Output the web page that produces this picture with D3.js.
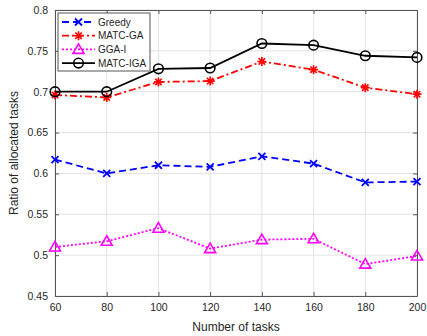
<!DOCTYPE html>
<html>
<head>
<meta charset="utf-8">
<script src="https://cdn.jsdelivr.net/npm/d3@7"></script>
<style>
  body { margin: 0; background: #fff; }
  text { font-family: "Liberation Sans", Arial, sans-serif; fill: #262626; }
</style>
</head>
<body>
<div id="chart"></div>
<script>
// ===== Data =====
var tasks = [60, 80, 100, 120, 140, 160, 180, 200];
var greedy = [0.617, 0.600, 0.610, 0.608, 0.621, 0.612, 0.589, 0.590];
var matcGA = [0.696, 0.693, 0.712, 0.713, 0.737, 0.727, 0.705, 0.697];
var ggaI = [0.510, 0.517, 0.533, 0.508, 0.519, 0.520, 0.489, 0.499];
var matcIGA = [0.700, 0.700, 0.728, 0.729, 0.759, 0.757, 0.744, 0.742];
var yTicks = [0.45, 0.5, 0.55, 0.6, 0.65, 0.7, 0.75, 0.8];
var yTickLabels = ["0.45", "0.5", "0.55", "0.6", "0.65", "0.7", "0.75", "0.8"];

var series = [
  { name: "Greedy", values: greedy, color: "#0000ff", dash: "7,4", marker: "x" },
  { name: "MATC-GA", values: matcGA, color: "#ff0000", dash: "7,3,2,3", marker: "star" },
  { name: "GGA-I", values: ggaI, color: "#ff00ff", dash: "2,2", marker: "tri" },
  { name: "MATC-IGA", values: matcIGA, color: "#000000", dash: null, marker: "circle" }
];

// ===== SVG area =====
var svgWidth = 427, svgHeight = 336;
var margin = { top: 10, right: 10, bottom: 40, left: 55 };
var width = svgWidth - margin.left - margin.right;
var height = svgHeight - margin.top - margin.bottom;

var svg = d3.select("#chart").append("svg")
  .attr("width", svgWidth)
  .attr("height", svgHeight);

var g = svg.append("g")
  .attr("transform", `translate(${margin.left}, ${margin.top})`);

var x = d3.scaleLinear().domain([60, 200]).range([0, width]);
var y = d3.scaleLinear().domain([0.45, 0.8]).range([height, 0]);

// grid
g.append("g").selectAll("line.gx").data(tasks).enter().append("line")
  .attr("x1", d => x(d)).attr("x2", d => x(d))
  .attr("y1", 0).attr("y2", height)
  .attr("stroke", "#e3e3e3").attr("stroke-width", 1);
g.append("g").selectAll("line.gy").data(yTicks).enter().append("line")
  .attr("y1", d => y(d)).attr("y2", d => y(d))
  .attr("x1", 0).attr("x2", width)
  .attr("stroke", "#e3e3e3").attr("stroke-width", 1);

// axes (ticks inward, box on all sides)
var axisColor = "#555";
var bottomAxis = d3.axisBottom(x).tickValues(tasks).tickSizeInner(-4).tickSizeOuter(0).tickPadding(8);
var leftAxis = d3.axisLeft(y).tickValues(yTicks).tickSizeInner(-4).tickSizeOuter(0).tickPadding(7)
  .tickFormat((d, i) => yTickLabels[i]);
var topAxis = d3.axisTop(x).tickValues(tasks).tickSizeInner(-4).tickSizeOuter(0).tickFormat("");
var rightAxis = d3.axisRight(y).tickValues(yTicks).tickSizeInner(-4).tickSizeOuter(0).tickFormat("");

var xAxisG = g.append("g").attr("transform", `translate(0, ${height})`).call(bottomAxis);
var yAxisG = g.append("g").call(leftAxis);
var tAxisG = g.append("g").call(topAxis);
var rAxisG = g.append("g").attr("transform", `translate(${width}, 0)`).call(rightAxis);

[xAxisG, yAxisG, tAxisG, rAxisG].forEach(function (a) {
  a.selectAll("path, line").attr("stroke", axisColor);
  a.selectAll("text").style("font-size", "10.5px")
    .style("font-family", '"Liberation Sans", Arial, sans-serif').attr("fill", "#262626");
});

// axis labels
g.append("text")
  .attr("x", width / 2).attr("y", height + 35)
  .attr("text-anchor", "middle")
  .style("font-size", "12px")
  .text("Number of tasks");

g.append("text")
  .attr("transform", "rotate(-90)")
  .attr("x", -height / 2).attr("y", -37)
  .attr("text-anchor", "middle")
  .style("font-size", "12px")
  .text("Ratio of allocated tasks");

// markers
function drawMarker(sel, type, color) {
  if (type === "x") {
    sel.append("path").attr("d", "M-3.5,-3.5L3.5,3.5M-3.5,3.5L3.5,-3.5")
      .attr("stroke", color).attr("stroke-width", 1.8).attr("fill", "none");
  } else if (type === "star") {
    sel.append("path").attr("d", "M-4.5,0L4.5,0M0,-4.5L0,4.5M-3.2,-3.2L3.2,3.2M-3.2,3.2L3.2,-3.2")
      .attr("stroke", color).attr("stroke-width", 1.6).attr("fill", "none");
  } else if (type === "tri") {
    sel.append("path").attr("d", "M0,-5.5L5.5,4L-5.5,4Z")
      .attr("stroke", color).attr("stroke-width", 1.6).attr("fill", "none");
  } else {
    sel.append("circle").attr("r", 4.8)
      .attr("stroke", color).attr("stroke-width", 1.6).attr("fill", "none");
  }
}

var line = d3.line().x((d, i) => x(tasks[i])).y(d => y(d));

series.forEach(function (s) {
  g.append("path")
    .datum(s.values)
    .attr("d", line)
    .attr("fill", "none")
    .attr("stroke", s.color)
    .attr("stroke-width", 1.8)
    .attr("stroke-dasharray", s.dash);
  g.selectAll(null).data(s.values).enter().append("g")
    .attr("transform", (d, i) => `translate(${x(tasks[i])}, ${y(d)})`)
    .each(function () { drawMarker(d3.select(this), s.marker, s.color); });
});

// legend
var legend = g.append("g").attr("transform", "translate(3, 3)");
legend.append("rect")
  .attr("width", 92).attr("height", 58)
  .attr("fill", "#fff").attr("stroke", "#555").attr("stroke-width", 1);

series.forEach(function (s, i) {
  var ly = 9 + i * 13.7;
  var row = legend.append("g").attr("transform", `translate(0, ${ly})`);
  row.append("line")
    .attr("x1", 4).attr("x2", 37)
    .attr("stroke", s.color).attr("stroke-width", 1.8)
    .attr("stroke-dasharray", s.dash);
  var m = row.append("g").attr("transform", "translate(20.5, 0)");
  drawMarker(m, s.marker, s.color);
  row.append("text")
    .attr("x", 40).attr("y", 0).attr("dy", "0.35em")
    .style("font-size", "10px")
    .text(s.name);
});
</script>
</body>
</html>
